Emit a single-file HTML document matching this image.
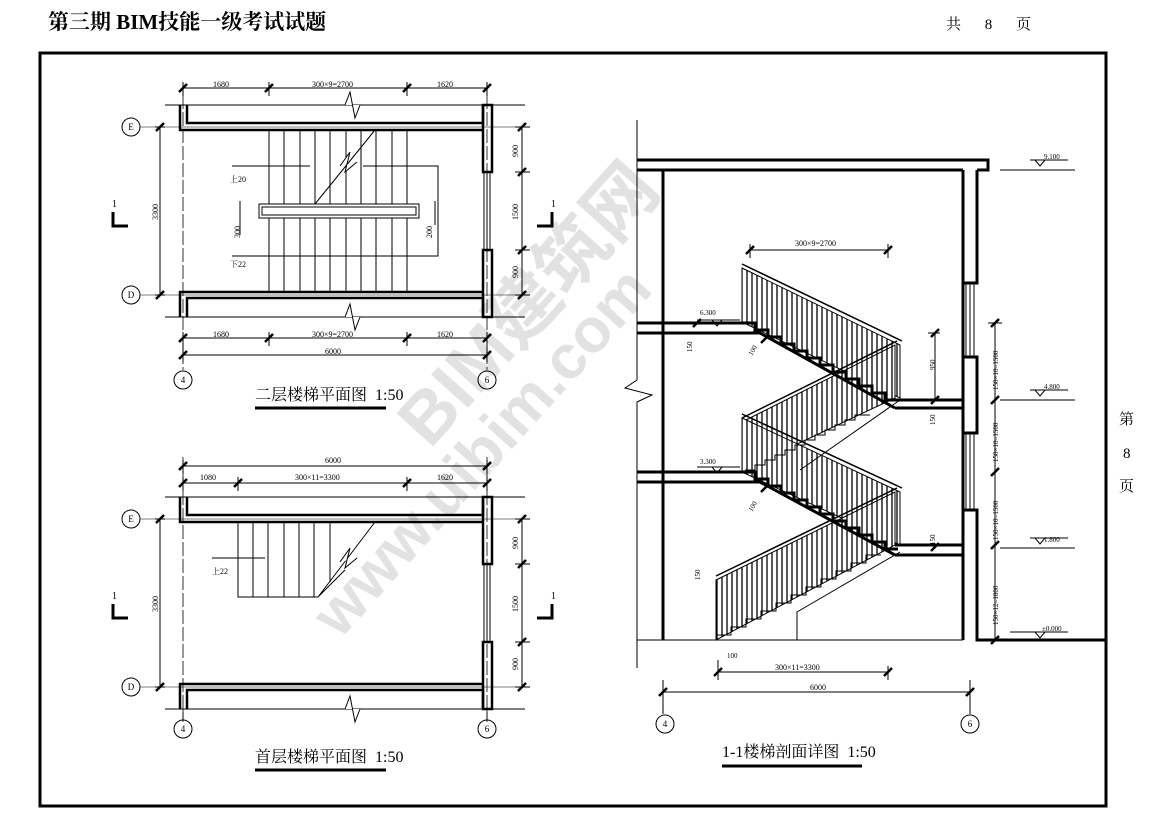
<!DOCTYPE html>
<html><head><meta charset="utf-8"><style>
html,body{margin:0;padding:0;background:#fff;}
svg{display:block;font-family:"Liberation Serif","Noto Serif CJK SC",serif;}
</style></head><body>
<svg width="1169" height="826" viewBox="0 0 1169 826" xmlns="http://www.w3.org/2000/svg">
<defs>
<pattern id="bal" width="5" height="10" patternUnits="userSpaceOnUse"><rect width="5" height="10" fill="#fff"/><line x1="2" y1="0" x2="2" y2="10" stroke="#000" stroke-width="1.3"/></pattern>
</defs>
<g fill="#e2e2e2" font-family="Liberation Sans,'Noto Sans CJK SC',sans-serif" font-weight="bold">
<text x="0" y="0" font-size="72" transform="translate(430,450) rotate(-48)">BIM建筑网</text>
<text x="0" y="0" font-size="62" transform="translate(340,640) rotate(-48)">www.uibim.com</text>
</g>
<text x="48" y="29" font-size="21" font-weight="bold" font-family="Liberation Serif,'Noto Serif CJK SC',serif">第三期 BIM技能一级考试试题</text>
<text x="946" y="29" font-size="15" letter-spacing="10">共 8 页</text>
<text x="1119" y="424" font-size="15">第</text>
<text x="1123" y="458" font-size="15">8</text>
<text x="1119" y="491" font-size="15">页</text>
<rect x="40" y="53" width="1066" height="753" fill="none" stroke="#000" stroke-width="3"/>

<g stroke="#000" fill="none" font-size="8">
<g id="plan">
<line x1="165" y1="105" x2="525" y2="105" stroke-width="1"/>
<line x1="165" y1="317" x2="525" y2="317" stroke-width="1"/>
<path d="M180 105 V130 H483 M187 105 V123 H483 V105" stroke-width="2.5"/>
<path d="M180 317 V292 H483 M187 317 V298 H483 V317" stroke-width="2.5"/>
<rect x="483" y="105" width="9" height="67" stroke-width="2.5"/>
<rect x="483" y="250" width="9" height="67" stroke-width="2.5"/>
<path d="M484 172 V250 M487 172 V250 M490 172 V250" stroke-width="1"/>
<line x1="183" y1="95" x2="183" y2="370" stroke-width="0.8" stroke-dasharray="14,3"/>
<line x1="487" y1="95" x2="487" y2="370" stroke-width="0.8" stroke-dasharray="14,3"/>
<line x1="140" y1="127" x2="530" y2="127" stroke-width="0.6"/>
<line x1="140" y1="295" x2="530" y2="295" stroke-width="0.6"/>
<path d="M345 105 L350 92 L355 118 L360 105 M345 317 L350 304 L355 330 L360 317" stroke-width="1" fill="#fff"/>
</g>
<g stroke-width="1">
<path d="M269 130V292 M284 130V292 M300 130V292 M315 130V292 M330 130V292 M346 130V292 M361 130V292 M376 130V292 M392 130V292 M407 130V292"/>
<rect x="259" y="204" width="160" height="14" fill="#fff"/><rect x="262" y="207" width="154" height="8"/>
<path d="M232 166H310 M363 166H438V256H232 M315 204 L375 130" />
<path d="M340 166 L350 152 L345 172 L357 162" fill="#fff"/>
</g>
<g stroke="none" fill="#000" font-size="8">
<text x="230" y="182">上20</text><text x="230" y="267">下22</text>
<text x="213" y="87">1680</text><text x="312" y="87">300×9=2700</text><text x="437" y="87">1620</text>
<text x="213" y="337">1680</text><text x="312" y="337">300×9=2700</text><text x="437" y="337">1620</text>
<text x="325" y="354">6000</text>
<text transform="translate(158,220) rotate(-90)">3300</text>
<text transform="translate(240,238) rotate(-90)">300</text>
<text transform="translate(432,238) rotate(-90)">200</text>
<text transform="translate(518,157) rotate(-90)">900</text>
<text transform="translate(518,220) rotate(-90)">1500</text>
<text transform="translate(518,278) rotate(-90)">900</text>
<text x="112" y="207" font-size="10">1</text><text x="551" y="207" font-size="10">1</text>
</g>
<g stroke-width="1">
<path d="M183 88H487 M183 338H487 M183 355H487 M160 127V295 M522 127V295"/>
<path d="M183 82V96 M269 82V96 M407 82V96 M487 82V96 M183 332V362 M269 332V346 M407 332V346 M487 332V362 M155 127H165 M155 295H165 M515 127H530 M515 172H530 M515 250H530 M515 295H530 M240 201V235 M435 201V225"/>
<path d="M179 92l8-8 M265 92l8-8 M403 92l8-8 M483 92l8-8 M179 342l8-8 M265 342l8-8 M403 342l8-8 M483 342l8-8 M179 359l8-8 M483 359l8-8 M156 131l8-8 M156 299l8-8 M518 131l8-8 M518 176l8-8 M518 254l8-8 M518 299l8-8" stroke-width="2.5"/>
<path d="M113 212V226H128 M552 212V226H537" stroke-width="3"/>
<circle cx="131" cy="127" r="9"/><circle cx="131" cy="295" r="9"/>
<circle cx="183" cy="380" r="9"/><circle cx="487" cy="380" r="9"/>
</g>
<g stroke="none" fill="#000" font-size="9" text-anchor="middle">
<text x="131" y="130">E</text><text x="131" y="298">D</text><text x="183" y="383">4</text><text x="487" y="383">6</text>
</g>
<text x="255" y="400" font-size="16" stroke="none" fill="#000">二层楼梯平面图 &#160;1:50</text>
<line x1="255" y1="408" x2="386" y2="408" stroke-width="3"/>

<g transform="translate(0,392)">
<line x1="165" y1="105" x2="525" y2="105" stroke-width="1"/>
<line x1="165" y1="317" x2="525" y2="317" stroke-width="1"/>
<path d="M180 105 V130 H483 M187 105 V123 H483 V105" stroke-width="2.5"/>
<path d="M180 317 V292 H483 M187 317 V298 H483 V317" stroke-width="2.5"/>
<rect x="483" y="105" width="9" height="67" stroke-width="2.5"/>
<rect x="483" y="250" width="9" height="67" stroke-width="2.5"/>
<path d="M484 172 V250 M487 172 V250 M490 172 V250" stroke-width="1"/>
<line x1="183" y1="65" x2="183" y2="330" stroke-width="0.8" stroke-dasharray="14,3"/>
<line x1="487" y1="65" x2="487" y2="330" stroke-width="0.8" stroke-dasharray="14,3"/>
<line x1="140" y1="127" x2="530" y2="127" stroke-width="0.6"/>
<line x1="140" y1="295" x2="530" y2="295" stroke-width="0.6"/>
<path d="M345 317 L350 304 L355 330 L360 317" stroke-width="1" fill="#fff"/>
<path d="M238 130V205H318 L345 178 M238 130V205 M253 130V205 M268 130V205 M284 130V205 M299 130V205 M314 130V205 M330 130V190 M318 205 L375 130 M212 166H265" stroke-width="1"/>
<path d="M340 170 L350 156 L345 176 L357 166" fill="#fff" stroke-width="1"/>
<path d="M160 127V295 M522 127V295 M155 127H165 M155 295H165 M515 127H530 M515 172H530 M515 250H530 M515 295H530" stroke-width="1"/>
<path d="M156 131l8-8 M156 299l8-8 M518 131l8-8 M518 176l8-8 M518 254l8-8 M518 299l8-8" stroke-width="2.5"/>
<path d="M113 212V226H128 M552 212V226H537" stroke-width="3"/>
<circle cx="131" cy="127" r="9" stroke-width="1"/><circle cx="131" cy="295" r="9" stroke-width="1"/>
<g stroke="none" fill="#000" font-size="8">
<text x="212" y="182">上22</text>
<text transform="translate(158,220) rotate(-90)">3300</text>
<text transform="translate(518,157) rotate(-90)">900</text>
<text transform="translate(518,220) rotate(-90)">1500</text>
<text transform="translate(518,278) rotate(-90)">900</text>
<text x="112" y="207" font-size="10">1</text><text x="551" y="207" font-size="10">1</text>
<text x="131" y="130" font-size="9" text-anchor="middle">E</text><text x="131" y="298" font-size="9" text-anchor="middle">D</text>
</g>
</g>
<path d="M183 466H487 M183 483H487 M183 460V474 M487 460V474 M183 477V491 M238 477V491 M407 477V491 M487 477V491" stroke-width="1"/>
<path d="M179 470l8-8 M483 470l8-8 M179 487l8-8 M234 487l8-8 M403 487l8-8 M483 487l8-8" stroke-width="2.5"/>
<line x1="183" y1="709" x2="183" y2="720" stroke-width="0.8"/><line x1="487" y1="709" x2="487" y2="720" stroke-width="0.8"/>
<circle cx="183" cy="729" r="9" stroke-width="1"/><circle cx="487" cy="729" r="9" stroke-width="1"/>
<g stroke="none" fill="#000" font-size="8">
<text x="325" y="463">6000</text><text x="200" y="480">1080</text><text x="295" y="480">300×11=3300</text><text x="437" y="480">1620</text>
<text x="183" y="732" font-size="9" text-anchor="middle">4</text><text x="487" y="732" font-size="9" text-anchor="middle">6</text>
</g>
<text x="255" y="762" font-size="16" stroke="none" fill="#000">首层楼梯平面图 &#160;1:50</text>
<line x1="255" y1="770" x2="386" y2="770" stroke-width="3"/>

<polygon points="742,268 900,345 900,398 742,322" fill="url(#bal)" stroke-width="1"/>
<polygon points="742,422 895,345 895,398 742,470" fill="url(#bal)" stroke-width="1"/>
<polygon points="742,418 900,492 900,545 742,472" fill="url(#bal)" stroke-width="1"/>
<polygon points="716,580 895,492 895,545 716,640" fill="url(#bal)" stroke-width="1"/>
<path d="M742 264 L902 341 M742 418 L897 341 M742 414 L902 488 M716 576 L897 488" stroke-width="1.5"/>
<path d="M745 470 h10v-5h10v-5h10v-5h10v-5h10v-5h10v-5h10v-5h10v-5h10v-5h10v-5h10v-5h15 M800 470 L900 400" stroke-width="1"/>
<path d="M716 640 v-5h15v-8h15v-8h15v-8h15v-8h15v-8h15v-8h15v-8h15v-8h15v-8h15v-8h15 M797 640 V612 L900 552" stroke-width="1"/>
<path d="M745 333 L760 333 L895 408 M745 323 h10v7h13v7h13v7h13v7h13v7h13v7h13v7h13v7h13v7h13v7h13v7h13" stroke-width="3"/>
<path d="M745 482 L760 482 L895 555 M745 472 h10v7h13v7h13v7h13v7h13v7h13v7h13v7h13v7h13v7h13v7h13v7h13" stroke-width="3"/>
<path d="M637 160 H988 V170 H977 M637 170 H963" stroke-width="3"/>
<path d="M963 170 V640 M977 170 V283 H963 M963 357 H977 V433 H963 M963 510 H977 V640 H1105" stroke-width="3"/>
<path d="M966 283V357 M970 283V357 M974 283V357 M966 433V510 M970 433V510 M974 433V510" stroke-width="1"/>
<path d="M637 323 H745 M637 333 H745 M895 400 H963 M895 408 H963 M637 472 H745 M637 482 H745 M895 545 H963 M895 555 H963" stroke-width="3"/>
<line x1="663" y1="170" x2="663" y2="640" stroke-width="3"/>
<line x1="637" y1="640" x2="963" y2="640" stroke-width="1"/>
<path d="M637 120 V380 L625 388 L652 395 L637 402 V668" stroke-width="1"/>
<path d="M1000 170H1075 M1030 160H1068 M1035 160l5 6 5-6" stroke-width="1"/>
<path d="M1000 400H1075 M1030 390H1068 M1035 390l5 6 5-6" stroke-width="1"/>
<path d="M1000 548H1075 M1030 538H1068 M1035 538l5 6 5-6" stroke-width="1"/>
<path d="M1010 632H1068 M1035 632l5 6 5-6" stroke-width="1"/>
<path d="M697 320H740 M712 320l5 6 5-6 M697 467H740 M712 467l5 6 5-6" stroke-width="1"/>
<g stroke="none" fill="#000" font-size="7">
<text x="1044" y="159">9.100</text><text x="1044" y="389">4.800</text><text x="1044" y="542">1.800</text><text x="1042" y="631">±0.000</text>
<text x="700" y="315">6.300</text><text x="700" y="464">3.300</text>
<text x="795" y="246" font-size="8">300×9=2700</text>
<text x="775" y="670" font-size="8">300×11=3300</text>
<text x="810" y="690" font-size="8">6000</text>
<text x="727" y="658">100</text>
<text transform="translate(692,352) rotate(-90)">150</text>
<text transform="translate(700,580) rotate(-90)">150</text>
<text transform="translate(935,370) rotate(-90)">950</text>
<text transform="translate(935,425) rotate(-90)">150</text>
<text transform="translate(935,545) rotate(-90)">150</text>
<text transform="translate(752,356) rotate(-60)">100</text>
<text transform="translate(752,512) rotate(-60)">100</text>
<text transform="translate(998,390) rotate(-90)">150×10=1500</text>
<text transform="translate(998,462) rotate(-90)">150×10=1500</text>
<text transform="translate(998,540) rotate(-90)">150×10=1500</text>
<text transform="translate(998,625) rotate(-90)">150×12=1800</text>
</g>
<path d="M995 323V640 M988 323H1002 M750 250H888 M750 244V258 M888 244V258 M718 672H888 M718 660V680 M888 666V680 M663 692H970 M663 680V714 M970 680V714 M935 333V400 M928 333H940 M928 400H940" stroke-width="1"/>
<path d="M991 327l8-8 M991 404l8-8 M991 476l8-8 M991 549l8-8 M991 644l8-8 M746 254l8-8 M884 254l8-8 M714 676l8-8 M884 676l8-8 M659 696l8-8 M966 696l8-8 M931 337l8-8 M931 404l8-8 M931 551l8-8 M693 327l8-8 M761 343l8-8 M761 492l8-8" stroke-width="2.5"/>
<circle cx="665" cy="724" r="9" stroke-width="1"/><circle cx="970" cy="724" r="9" stroke-width="1"/>
<text x="665" y="727" font-size="9" text-anchor="middle" stroke="none" fill="#000">4</text>
<text x="970" y="727" font-size="9" text-anchor="middle" stroke="none" fill="#000">6</text>
<text x="722" y="757" font-size="16" stroke="none" fill="#000">1-1楼梯剖面详图 &#160;1:50</text>
<line x1="722" y1="766" x2="862" y2="766" stroke-width="3"/>
</g>
</svg>
</body></html>
